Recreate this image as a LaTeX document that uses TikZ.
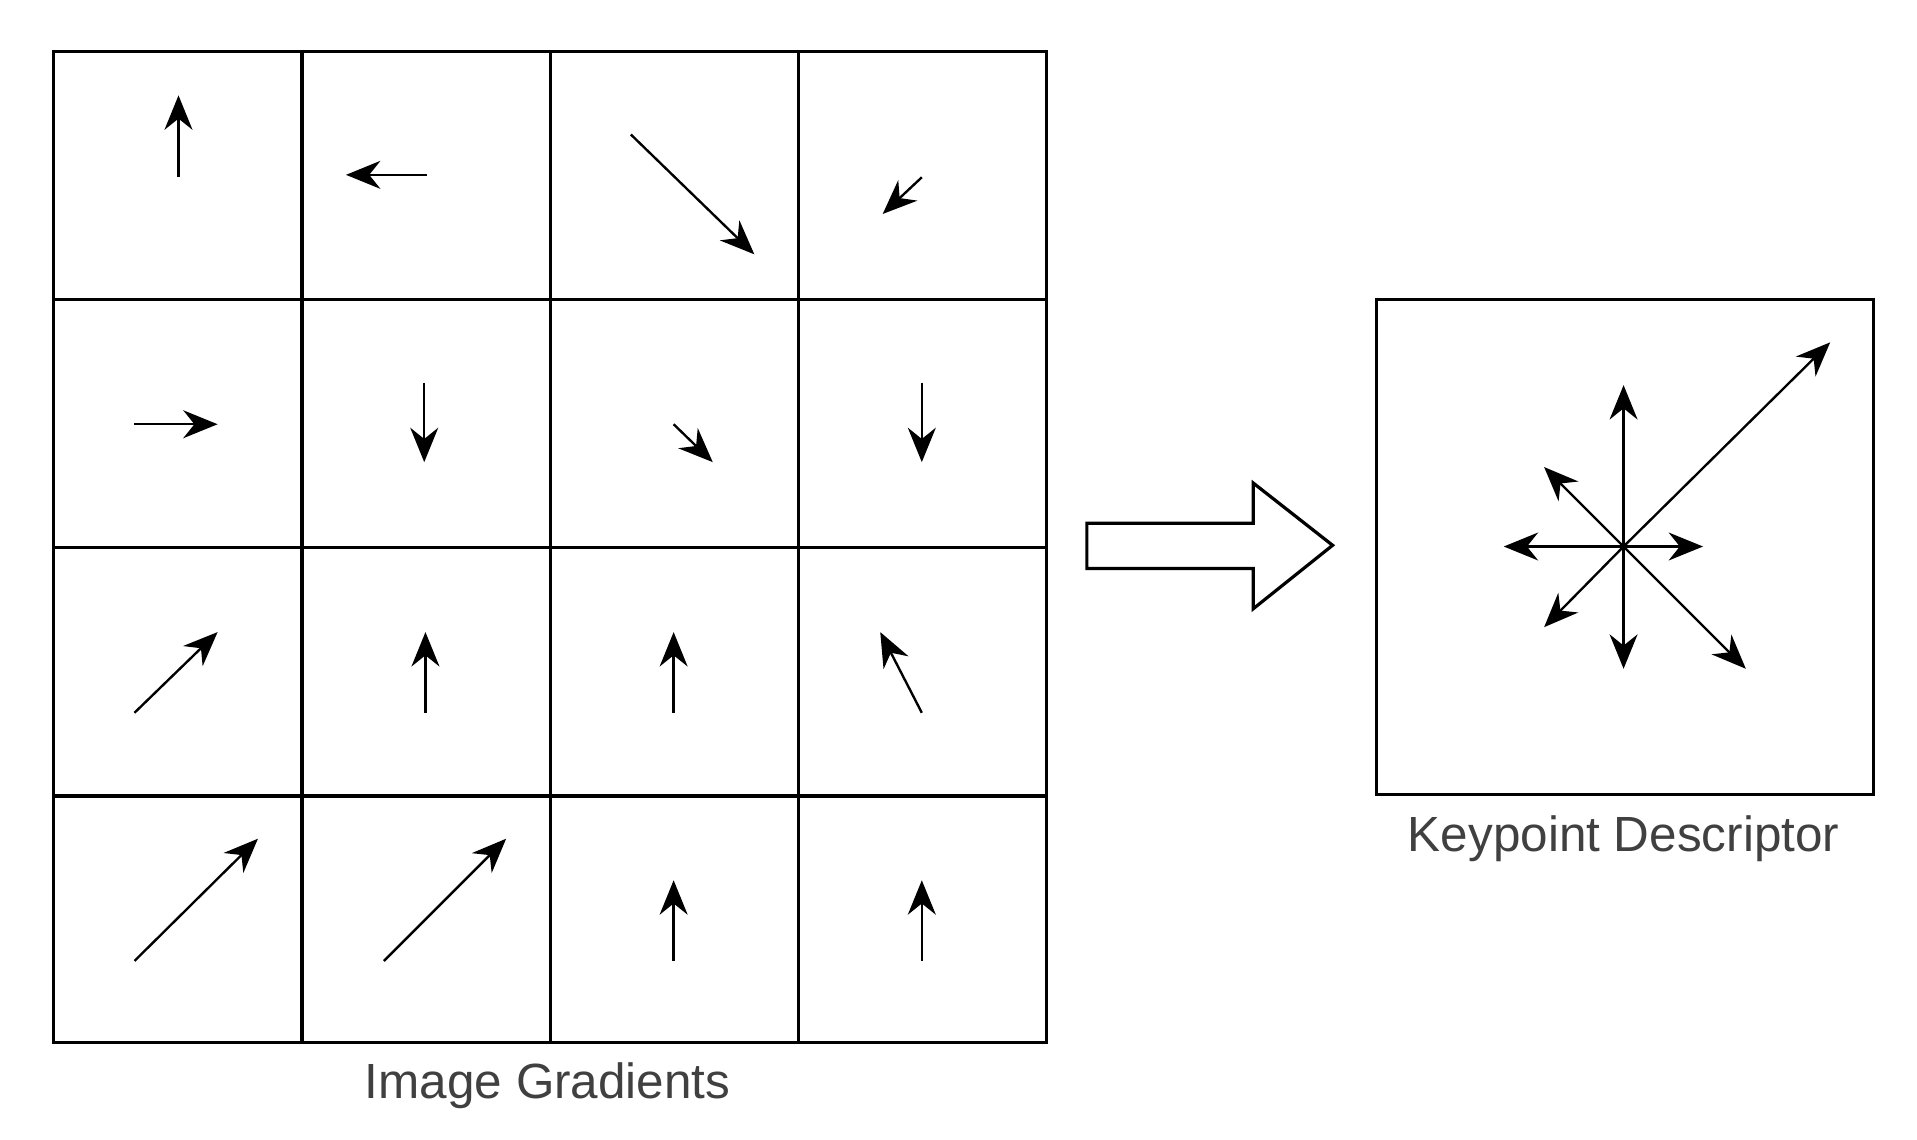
\documentclass[tikz,border=0pt]{standalone}
\usepackage{fontspec}
\setmainfont{Liberation Sans}
\usetikzlibrary{arrows.meta}
\begin{document}
\begin{tikzpicture}[x=0.01cm,y=-0.01cm,
  grid/.style={line width=0.75pt},
  vec/.style={line width=0.55pt,-{Stealth[length=8pt,width=6.5pt]}},
  lbl/.style={text=black!75,font=\fontsize{11.5pt}{13pt}\selectfont}]
\useasboundingbox (0,0) rectangle (1568,932);
\draw[grid] (44,42) rectangle (856,853);
\foreach \v in {247,450,653} {\draw[grid] (\v,42) -- (\v,853); \draw[grid] (44,\v-2) -- (856,\v-2);}
\foreach \a/\b/\c/\d [count=\i] in {146/145/146/78, 349/143/283/143, 516/110/617/208, 754/145/722/175,
  110/347/178/347, 347/313/347/378, 551/347/583/378, 754/313/754/378,
  110/583/178/517, 348/583/348/517, 551/583/551/517, 754/583/720/517,
  110/786/211/686, 314/786/414/686, 551/786/551/720, 754/786/754/720}
  {\coordinate (t\i) at (\a,\b); \coordinate (h\i) at (\c,\d); \draw[vec] (t\i) -- (h\i);}
\node[lbl] (ig) at (448,888) {Image Gradients};
\draw[line width=0.75pt] (889,428) -- (1025,428) -- (1025,395) -- (1090,446) -- (1025,498) -- (1025,465) -- (889,465) -- cycle;
\node[draw,line width=0.75pt,minimum width=4.06cm,minimum height=4.05cm,inner sep=0pt] (kd) at (1329,447.5) {};
\coordinate (c) at (1328,447);
\foreach \x/\y [count=\j] in {1328/315, 1328/547, 1230/447, 1393/447, 1263/382, 1263/513, 1428/547, 1497/280}
  {\coordinate (k\j) at (\x,\y); \draw[vec] (c) -- (k\j);}
\node[lbl] (kdl) at (1328,686) {Keypoint Descriptor};
\end{tikzpicture}
\end{document}
